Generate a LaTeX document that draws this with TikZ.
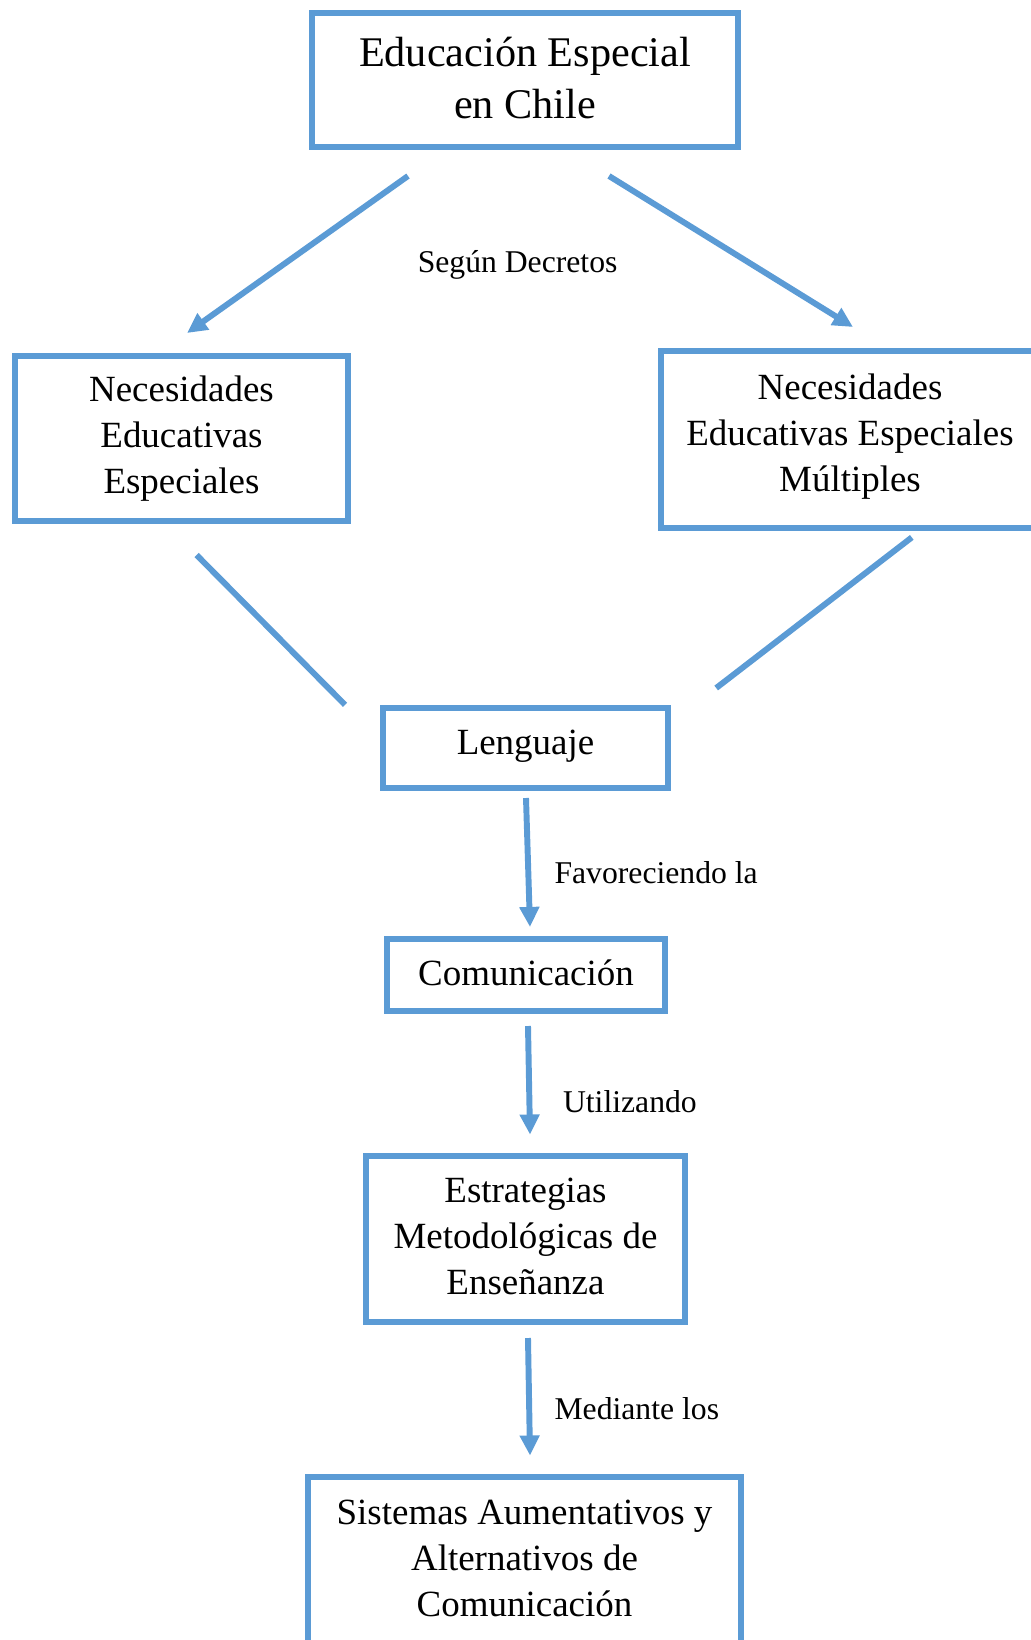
\documentclass[tikz,border=0pt]{standalone}
\usepackage{fontspec}
\setmainfont{Liberation Serif}
\usetikzlibrary{arrows.meta}
\definecolor{boxblue}{HTML}{5B9BD5}

\begin{document}
\begin{tikzpicture}[x=0.3788pt,y=-0.3788pt,
  box/.style={draw=boxblue,line width=2.25pt,align=center,inner sep=2pt,font=\fontsize{14}{17.4}\selectfont},
  link/.style={draw=boxblue,line width=2.25pt},
  arr/.style={link,-{Triangle[width=7.2pt,length=7.6pt]}},
  lbl/.style={font=\fontsize{12}{14}\selectfont,inner sep=0pt}]
  \useasboundingbox (0,0) rectangle (1031,1640);
  \clip (0,0) rectangle (1031,1640);

  % Boxes
  \node[box,minimum width=161.6pt,minimum height=50.9pt,text depth=1.6pt,font=\fontsize{16}{19.7}\selectfont] (edu) at (525,80) {Educación Especial\\en Chile};
  \node[box,minimum width=126.3pt,minimum height=62.7pt] (nee) at (181.5,438.5) {Necesidades\\Educativas\\Especiales};
  \node[box,minimum width=143.4pt,minimum height=67.2pt,text depth=5.5pt] (neem) at (850,439.5) {Necesidades\\Educativas Especiales\\Múltiples};
  \node[box,minimum width=108.1pt,minimum height=30.5pt,text depth=4.7pt] (leng) at (525.5,748) {Lenguaje};
  \node[box,minimum width=105.5pt,minimum height=27.5pt,text depth=1.8pt] (com) at (526,975) {Comunicación};
  \node[box,minimum width=121pt,minimum height=63.1pt,text depth=2pt] (estr) at (525.5,1239) {Estrategias\\Metodológicas de\\Enseñanza};
  \node[box,minimum width=164.2pt,minimum height=65pt,text depth=3.2pt] (saac) at (524.5,1562.5) {Sistemas Aumentativos y\\Alternativos de\\Comunicación};

  % Loose ends of the connectors
  \coordinate (eduL) at (408,176);
  \coordinate (eduR) at (609,176);
  \coordinate (neeT) at (187,333);
  \coordinate (neemT) at (853,327);
  \coordinate (neeB) at (196.6,555);
  \coordinate (lengL) at (345,704.8);
  \coordinate (neemB) at (911.8,537.4);
  \coordinate (lengR) at (716.2,688);
  \coordinate (lengB) at (526,798);
  \coordinate (comT) at (530,927);
  \coordinate (comB) at (528,1026);
  \coordinate (estrT) at (530,1134.5);
  \coordinate (estrB) at (528,1338);
  \coordinate (saacT) at (530,1455.5);

  % Top split
  \draw[arr] (eduL) -- (neeT);
  \draw[arr] (eduR) -- (neemT);
  \node[lbl] (segun) at (517.6,264.5) {Según Decretos};

  % Join into Lenguaje
  \draw[link] (neeB) -- (lengL);
  \draw[link] (neemB) -- (lengR);

  % Chain down
  \draw[arr] (lengB) -- (comT);
  \node[lbl,anchor=west] (favor) at (554,873) {Favoreciendo la};
  \draw[arr] (comB) -- (estrT);
  \node[lbl,anchor=west] (util) at (562.5,1102) {Utilizando};
  \draw[arr] (estrB) -- (saacT);
  \node[lbl,anchor=west] (medi) at (554,1408.5) {Mediante los};
\end{tikzpicture}
\end{document}
